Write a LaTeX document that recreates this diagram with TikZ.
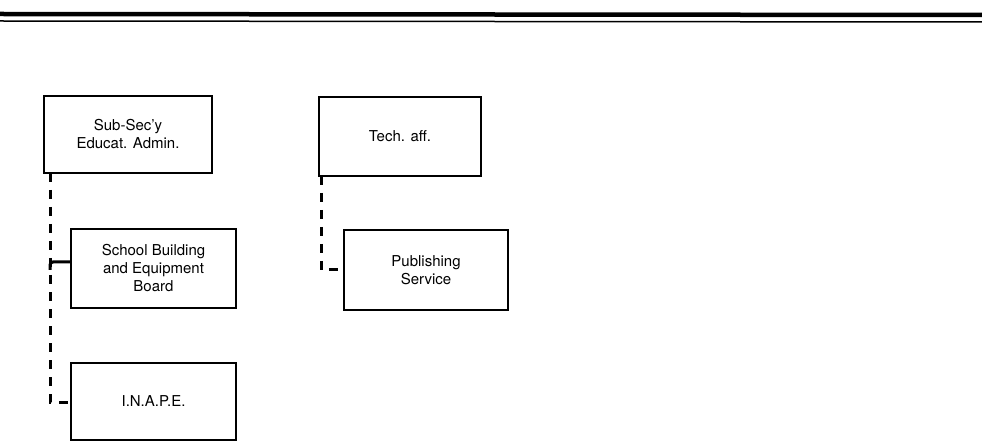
\documentclass[tikz,border=0pt]{standalone}
\usepackage{fontspec}
\setmainfont{TeX Gyre Heros}
\begin{document}
\begin{tikzpicture}[x=1pt,y=-1pt,
  box/.style={draw,line width=1.8pt,rectangle,inner sep=0pt,align=center,
    font=\fontsize{15}{18}\selectfont},
  dashlink/.style={line width=3pt,dash pattern=on 9pt off 8pt},
  solidlink/.style={line width=3pt,rounded corners=3pt}]
\useasboundingbox (0,0) rectangle (982,446);
\draw[line width=4.5pt] (0,14) -- (982,15);
\draw[line width=1.5pt] (0,21) -- (982,22);
\node[box,minimum width=168pt,minimum height=77pt] (sub) at (128,134.5) {Sub-Sec'y\\Educat. Admin.};
\node[box,minimum width=165pt,minimum height=79pt] (sbe) at (153.5,268.5) {School Building\\and Equipment\\Board};
\node[box,minimum width=165pt,minimum height=77pt] (inape) at (153.5,401.5) {I.N.A.P.E.};
\node[box,minimum width=162pt,minimum height=79pt] (tech) at (400,136.5) {Tech. aff.};
\node[box,minimum width=164pt,minimum height=80pt] (pub) at (426,270) {Publishing\\Service};
\coordinate (a1) at (50,173);
\coordinate (a2) at (50,402);
\draw[dashlink] (a1) -- (a2) -- (inape.west |- a2);
\draw[solidlink] (50,270) -- (50,262) -- (sbe.west |- 0,262);
\coordinate (b1) at (321,176);
\coordinate (b2) at (321,270);
\draw[dashlink] (b1) -- (b2) -- (pub.west |- b2);
\end{tikzpicture}
\end{document}
